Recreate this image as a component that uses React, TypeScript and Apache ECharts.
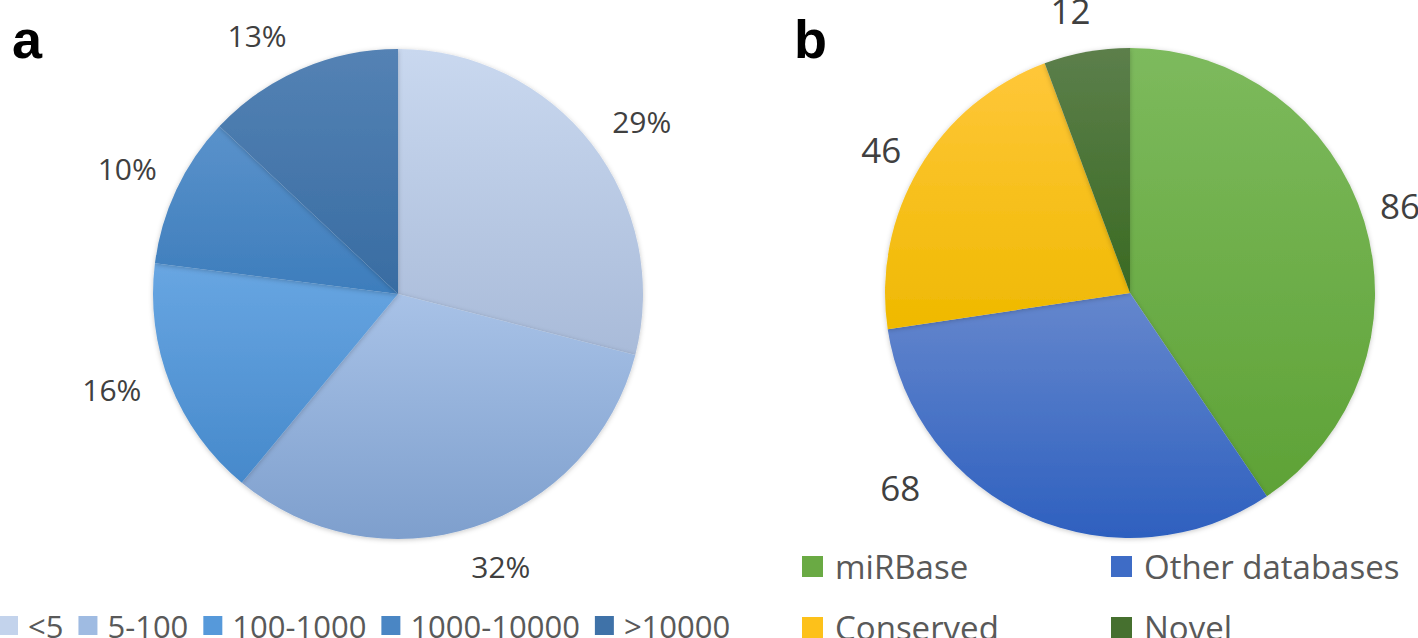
import React, { useEffect, useRef } from "react";
import * as echarts from "echarts";

// ---- data ----
const leftCategories = ["<5", "5-100", "100-1000", "1000-10000", ">10000"];
const leftValues = [29, 32, 16, 10, 13];
const rightCategories = ["miRBase", "Other databases", "Conserved", "Novel"];
const rightValues = [86, 68, 46, 12];
const panelLabels = ["a", "b"];

// ---- styles ----
const leftColors: [string, string][] = [
  ["#c9d8ef", "#a9bbd9"],
  ["#a8c2e7", "#7e9fcd"],
  ["#68a6e2", "#4689cb"],
  ["#5a92cb", "#3d7dbc"],
  ["#5482b4", "#386ca2"],
];
const leftLegendColors = ["#c3d3ec", "#9fbbe2", "#5699da", "#4a86c4", "#3f72a8"];
const rightColors: [string, string][] = [
  ["#7dba5d", "#5ea236"],
  ["#6587cd", "#2e60bf"],
  ["#ffc73a", "#efb900"],
  ["#5c7f4b", "#3a6a22"],
];
const rightLegendColors = ["#6aaa44", "#3e6cc6", "#fdc11a", "#46702f"];
// legend slot for each right-pie category: [left, top]
const rightLegendSlots = [[802, 550], [1111, 550], [802, 611], [1111, 611]];
const leftLabelOffsets = [[9, 10], [11, -10], [-10, -14], [-2, 1], [-23, 14]];
const rightLabelOffsets = [[-14, -1], [-110, -77], [7, 8], [-7, 10]];

const FONT = "'Open Sans', 'Noto Sans', sans-serif";

function grad(c: [string, string]) {
  return new echarts.graphic.LinearGradient(0, 0, 0, 1, [
    { offset: 0, color: c[0] },
    { offset: 1, color: c[1] },
  ]);
}

export default function App() {
  const ref = useRef<HTMLDivElement>(null);
  useEffect(() => {
    if (!ref.current) return;
    const chart = echarts.init(ref.current, undefined, { renderer: "svg" });

    const leftCenter = [398, 294];
    const rightCenter = [1130, 293];
    const R = 245;

    const pieBase = {
      type: "pie",
      startAngle: 90,
      clockwise: true,
      avoidLabelOverlap: false,
      emphasis: { disabled: true },
      labelLine: { show: false },
    };

    const rightLegends = rightCategories.map((n, i) => ({
      left: rightLegendSlots[i][0],
      top: rightLegendSlots[i][1],
      orient: "horizontal",
      padding: 0,
      itemWidth: 21,
      itemHeight: 21,
      selectedMode: false,
      icon: "rect",
      textStyle: { fontFamily: FONT, fontSize: 33, lineHeight: 33, color: "#595959", padding: [0, 0, 0, 7] },
      data: [{ name: n, itemStyle: { color: rightLegendColors[i] } }],
    }));

    const option: any = {
      animation: false,
      backgroundColor: "#ffffff",
      legend: [
        {
          left: -1,
          top: 610,
          orient: "horizontal",
          padding: 0,
          itemWidth: 19,
          itemHeight: 19,
          itemGap: 15,
          selectedMode: false,
          icon: "rect",
          textStyle: { fontFamily: FONT, fontSize: 31, lineHeight: 31, color: "#595959", padding: [0, 0, 0, 5] },
          data: leftCategories.map((n, i) => ({ name: n, itemStyle: { color: leftLegendColors[i] } })),
        },
        ...rightLegends,
      ],
      graphic: [
        {
          type: "text",
          x: 12,
          y: 39,
          style: { text: panelLabels[0], font: "bold 54px 'Liberation Sans', Arial, sans-serif", fill: "#000", verticalAlign: "middle" },
        },
        {
          type: "text",
          x: 794,
          y: 39,
          style: { text: panelLabels[1], font: "bold 54px 'Liberation Sans', Arial, sans-serif", fill: "#000", verticalAlign: "middle" },
        },
      ],
      series: [
        {
          ...pieBase,
          name: "left",
          center: leftCenter,
          radius: [0, R],
          label: { show: false },
          itemStyle: { shadowBlur: 5, shadowColor: "rgba(0,0,0,0.22)", shadowOffsetY: 1 },
          data: leftCategories.map((n, i) => ({
            name: n,
            value: leftValues[i],
            itemStyle: { color: grad(leftColors[i]) },
          })),
        },
        {
          ...pieBase,
          name: "right",
          center: rightCenter,
          radius: [0, R],
          label: { show: false },
          itemStyle: { shadowBlur: 5, shadowColor: "rgba(0,0,0,0.22)", shadowOffsetY: 1 },
          data: rightCategories.map((n, i) => ({
            name: n,
            value: rightValues[i],
            itemStyle: { color: grad(rightColors[i]) },
          })),
        },
        {
          ...pieBase,
          name: "leftLabels",
          silent: true,
          center: leftCenter,
          radius: [280, 308],
          itemStyle: { color: "rgba(0,0,0,0)" },
          label: {
            show: true,
            position: "inside",
            formatter: "{c}%",
            fontFamily: FONT,
            fontSize: 30,
            color: "#404040",
          },
          data: leftCategories.map((n, i) => ({
            name: n,
            value: leftValues[i],
            label: { offset: leftLabelOffsets[i] },
          })),
        },
        {
          ...pieBase,
          name: "rightLabels",
          silent: true,
          center: rightCenter,
          radius: [280, 308],
          itemStyle: { color: "rgba(0,0,0,0)" },
          label: {
            show: true,
            position: "inside",
            formatter: "{c}",
            fontFamily: FONT,
            fontSize: 35,
            color: "#404040",
          },
          data: rightCategories.map((n, i) => ({
            name: n,
            value: rightValues[i],
            label: { offset: rightLabelOffsets[i] },
          })),
        },
      ],
    };

    chart.setOption(option);
    return () => chart.dispose();
  }, []);

  return (
    <div
      ref={ref}
      style={{ position: "fixed", left: 0, top: 0, width: 1418, height: 638, background: "#fff" }}
    />
  );
}
